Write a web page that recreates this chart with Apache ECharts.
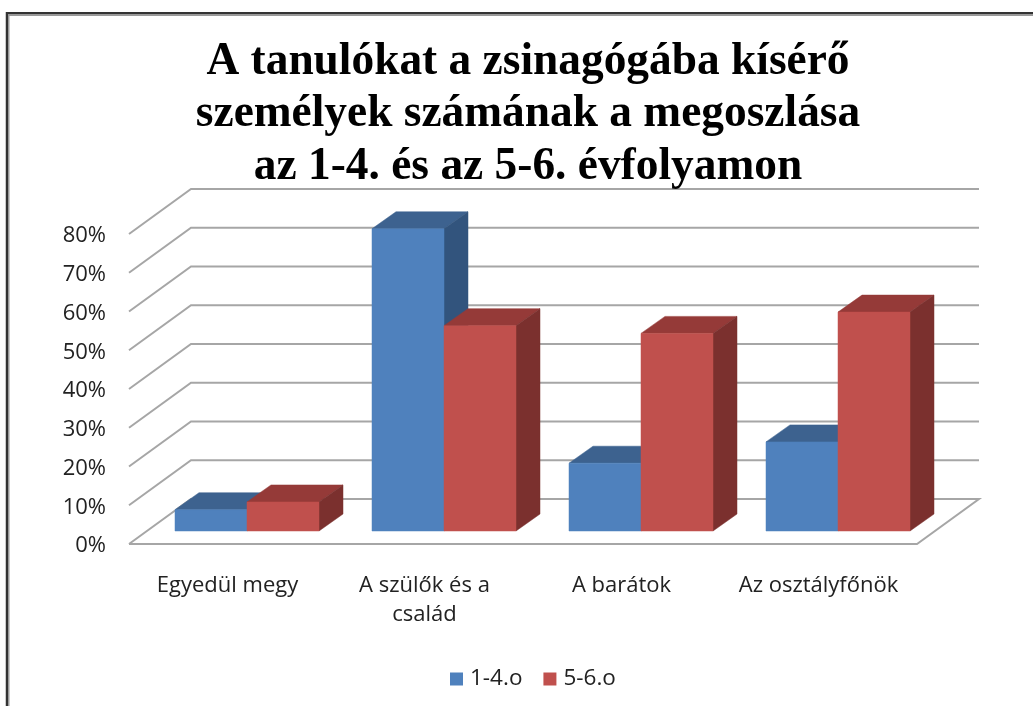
<!DOCTYPE html>
<html><head><meta charset="utf-8">
<style>html,body{margin:0;padding:0;background:#fff}#c{width:1033px;height:706px}</style>
<script src="https://cdn.jsdelivr.net/npm/echarts@6/dist/echarts.min.js"></script>
</head><body><div id="c"></div>
<script>
const titleText = 'A tanulókat a zsinagógába kísérő\nszemélyek számának a megoszlása\naz 1-4. és az 5-6. évfolyamon';
const categories = ['Egyedül megy', 'A szülők és a\ncsalád', 'A barátok', 'Az osztályfőnök'];
const seriesNames = ['1-4.o', '5-6.o'];
const values14 = [5.5, 78, 17.5, 23];
const values56 = [7.5, 53, 51, 56.5];
const ticks = [0, 10, 20, 30, 40, 50, 60, 70, 80];

const WALL_DX = 62, WALL_DY = 45;      // depth of floor
const BASE_DX = 19.5, BASE_DY = 13;    // bar front plane offset
const BAR_DX = 24, BAR_DY = 17;        // bar depth
const BAR_W = 72;

const chart = echarts.init(document.getElementById('c'), null, {renderer: 'canvas'});

function poly(points, fill) {
  return {type: 'polygon', shape: {points}, style: {fill, stroke: fill, lineWidth: 0.5}};
}
function barSeries(name, vals, colors, side) {
  return {
    name, type: 'custom', coordinateSystem: 'cartesian2d', z: side === 0 ? 3 : 4,
    itemStyle: {color: colors.front},
    encode: {x: 0, y: 1},
    data: categories.map((c, i) => [i, vals[i]]),
    renderItem(params, api) {
      const b = api.coord([api.value(0), 0]);
      const t = api.coord([api.value(0), api.value(1)]);
      const x0 = b[0] + BASE_DX + (side === 0 ? -BAR_W : 0);
      const x1 = x0 + BAR_W;
      const yb = b[1] - BASE_DY, yt = t[1] - BASE_DY;
      return {type: 'group', children: [
        poly([[x0, yt], [x1, yt], [x1 + BAR_DX, yt - BAR_DY], [x0 + BAR_DX, yt - BAR_DY]], colors.top),
        poly([[x1, yb], [x1 + BAR_DX, yb - BAR_DY], [x1 + BAR_DX, yt - BAR_DY], [x1, yt]], colors.side),
        poly([[x0, yb], [x1, yb], [x1, yt], [x0, yt]], colors.front)
      ]};
    }
  };
}
const gridSeries = {
  name: 'wall', type: 'custom', coordinateSystem: 'cartesian2d', z: 1, silent: true,
  encode: {x: 0, y: 1},
  data: ticks.map(v => [0, v]),
  renderItem(params, api) {
    const cs = params.coordSys;
    const y = api.coord([0, api.value(1)])[1];
    const xl = cs.x, xr = cs.x + cs.width;
    const style = {stroke: '#a6a6a6', lineWidth: 2, fill: null};
    const pts = api.value(1) === 0
      ? [[xl, y], [xl + WALL_DX, y - WALL_DY], [xr + WALL_DX, y - WALL_DY], [xr, y], [xl, y]]
      : [[xl, y], [xl + WALL_DX, y - WALL_DY], [xr + WALL_DX, y - WALL_DY]];
    return {type: 'polyline', shape: {points: pts}, style};
  }
};
const axisFont = {fontFamily: 'Open Sans', fontSize: 22, color: '#222'};
chart.setOption({
  animation: false,
  backgroundColor: '#fff',
  title: {
    text: titleText, left: 523, top: 31, textAlign: 'center',
    textStyle: {fontFamily: 'Liberation Serif', fontWeight: 'bold', fontSize: 45.4, lineHeight: 52.5, color: '#000'}
  },
  grid: {left: 129, right: 116, top: 234, bottom: 162, containLabel: false},
  legend: {
    data: seriesNames, left: 445, top: 662.5, itemWidth: 13, itemHeight: 13, itemGap: 21, icon: 'rect',
    selectedMode: false,
    textStyle: {fontFamily: 'Open Sans', fontSize: 22.5, color: '#222', padding: [0, 0, 0, 2]}
  },
  xAxis: {
    type: 'category', data: categories,
    axisLine: {show: false}, axisTick: {show: false}, splitLine: {show: false},
    axisLabel: Object.assign({margin: 27, lineHeight: 29, interval: 0}, axisFont)
  },
  yAxis: {
    type: 'value', min: 0, max: 80, interval: 10,
    axisLine: {show: false}, axisTick: {show: false}, splitLine: {show: false},
    axisLabel: Object.assign({margin: 23, formatter: '{a|{value}%}',
      rich: {a: Object.assign({padding: [4, 0, 0, 0]}, axisFont)}}, axisFont)
  },
  graphic: [{
    type: 'rect', silent: true, z: 0,
    shape: {x: 7.5, y: 14, width: 1100, height: 760},
    style: {fill: null, stroke: '#999', lineWidth: 4}
  }, {
    type: 'rect', silent: true, z: 0,
    shape: {x: 7, y: 13, width: 1100, height: 760},
    style: {fill: null, stroke: '#333', lineWidth: 2}
  }],
  series: [
    gridSeries,
    barSeries(seriesNames[0], values14, {front: '#4f81bd', top: '#3d628f', side: '#32547d'}, 0),
    barSeries(seriesNames[1], values56, {front: '#c0504d', top: '#953a38', side: '#7b302e'}, 1)
  ]
});
</script></body></html>
